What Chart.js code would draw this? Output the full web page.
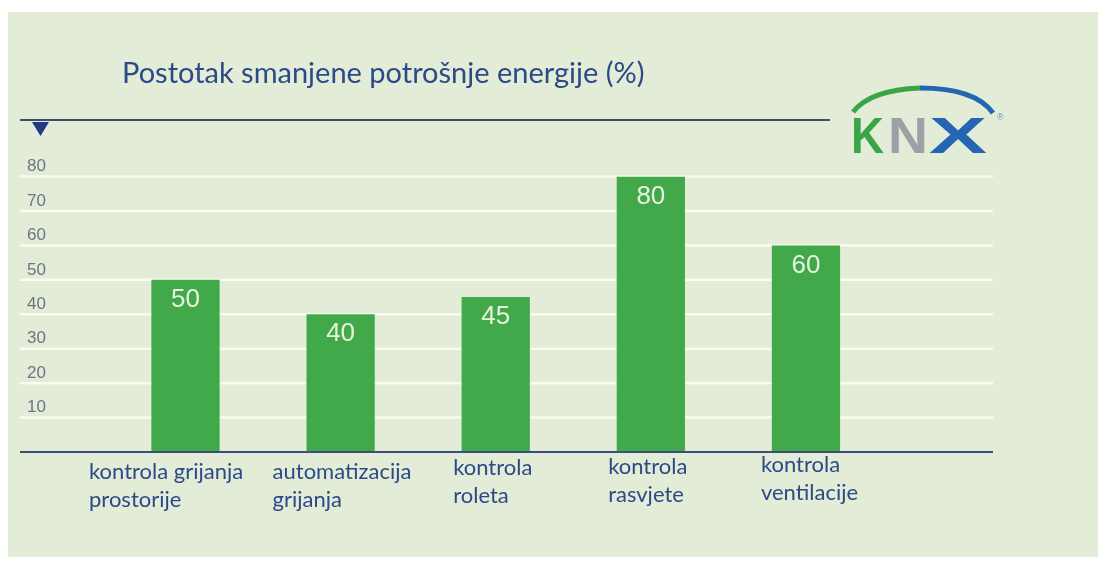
<!DOCTYPE html>
<html>
<head>
<meta charset="utf-8">
<title>Postotak smanjene potrošnje energije</title>
<script src="https://cdn.jsdelivr.net/npm/chart.js@4/dist/chart.umd.min.js"></script>
<style>
  html, body { margin: 0; padding: 0; background: #ffffff; }
  #panel { position: absolute; left: 8px; top: 12px; width: 1090px; height: 545px; background: #e2ecd6; }
  #wrap { position: absolute; left: 0; top: 0; width: 1105px; height: 564px; }
</style>
</head>
<body>
<div id="panel"></div>
<div id="wrap"><canvas id="chart" width="1105" height="564"></canvas></div>
<script>
// Data
const categories = [
  ['kontrola grijanja', 'prostorije'],
  ['automatizacija', 'grijanja'],
  ['kontrola', 'roleta'],
  ['kontrola', 'rasvjete'],
  ['kontrola', 'ventilacije']
];
const savings = [50, 40, 45, 80, 60];
const yTickValues = [0, 10, 20, 30, 40, 50, 60, 70, 80];
const chartTitle = 'Postotak smanjene potrošnje energije (%)';

// category labels are left aligned and not centred on the bars in the original
const labelShiftX = [-96.5, -68, -42.5, -42.7, -45];
const labelTopY = [472, 472, 468, 467, 465];

const blueText = '#2c4a88';
const barGreen = '#41a94a';

// title, top rule, triangle marker and KNX logo
const decorPlugin = {
  id: 'decor',
  beforeDraw(chart) {
    const ctx = chart.ctx;
    ctx.save();
    ctx.fillStyle = blueText;
    ctx.font = '29px Lato';
    ctx.textBaseline = 'middle';
    ctx.textAlign = 'left';
    ctx.fillText(chartTitle, 122, 74);

    ctx.strokeStyle = '#3d4d6a';
    ctx.lineWidth = 2;
    ctx.beginPath();
    ctx.moveTo(20, 120);
    ctx.lineTo(830, 120);
    ctx.stroke();

    ctx.fillStyle = '#1f3a86';
    ctx.beginPath();
    ctx.moveTo(32, 122);
    ctx.lineTo(49, 122);
    ctx.lineTo(40.5, 136);
    ctx.closePath();
    ctx.fill();

    drawLogo(ctx);
    ctx.restore();
  },
  beforeDatasetsDraw(chart) {
    // white grid lines run past the plot area, as in the original
    const ctx = chart.ctx;
    const y = chart.scales.y;
    ctx.save();
    ctx.strokeStyle = '#f8fcf2';
    ctx.lineWidth = 2.5;
    yTickValues.forEach(v => {
      if (v === 0) return;
      const py = y.getPixelForValue(v);
      ctx.beginPath();
      ctx.moveTo(20, py);
      ctx.lineTo(993, py);
      ctx.stroke();
    });
    ctx.restore();
  },
  afterDatasetsDraw(chart) {
    const ctx = chart.ctx;
    const x = chart.scales.x;
    const y = chart.scales.y;
    ctx.save();
    // axis base line
    const py = y.getPixelForValue(0);
    ctx.strokeStyle = '#3a4f7e';
    ctx.lineWidth = 2;
    ctx.beginPath();
    ctx.moveTo(20, py);
    ctx.lineTo(993, py);
    ctx.stroke();

    // values inside the bars
    const meta = chart.getDatasetMeta(0);
    ctx.fillStyle = '#e6f4de';
    ctx.font = '26px "Liberation Sans"';
    ctx.textAlign = 'center';
    ctx.textBaseline = 'middle';
    meta.data.forEach((bar, i) => {
      ctx.fillText(String(savings[i]), bar.x, bar.y + 20);
    });

    // category labels
    ctx.fillStyle = blueText;
    ctx.font = '22px Lato';
    ctx.textAlign = 'left';
    categories.forEach((lines, i) => {
      const px = x.getPixelForValue(i) + labelShiftX[i];
      lines.forEach((t, j) => ctx.fillText(t, px, labelTopY[i] + j * 28));
    });
    ctx.restore();
  }
};

function fitLetter(ctx, ch, x, w, color) {
  ctx.save();
  ctx.fillStyle = color;
  const mw = ctx.measureText(ch).width;
  ctx.translate(x, 153);
  ctx.scale(w / mw, 1);
  ctx.fillText(ch, 0, 0);
  ctx.restore();
}

function drawLogo(ctx) {
  ctx.save();
  ctx.lineWidth = 5;
  ctx.lineCap = 'butt';
  // arc over the letters
  ctx.strokeStyle = '#3aa547';
  ctx.beginPath();
  ctx.moveTo(853, 112);
  ctx.quadraticCurveTo(870, 90, 920, 88);
  ctx.stroke();
  ctx.strokeStyle = '#2466b4';
  ctx.beginPath();
  ctx.moveTo(920, 88);
  ctx.quadraticCurveTo(975, 88, 993, 113);
  ctx.stroke();

  ctx.font = 'bold 50px "Liberation Sans"';
  ctx.textBaseline = 'alphabetic';
  ctx.textAlign = 'left';
  fitLetter(ctx, 'K', 851, 33, '#3aa547');
  fitLetter(ctx, 'N', 888, 40, '#9ba1a7');
  fitLetter(ctx, 'X', 929, 58, '#2466b4');

  ctx.fillStyle = '#6a8fc4';
  ctx.font = '9px "Liberation Sans"';
  ctx.fillText('®', 997, 120);
  ctx.restore();
}

const ctx = document.getElementById('chart').getContext('2d');
const chart = new Chart(ctx, {
  type: 'bar',
  data: {
    labels: categories,
    datasets: [{
      data: savings,
      backgroundColor: barGreen,
      borderWidth: 0,
      categoryPercentage: 1,
      barPercentage: 0.44
    }]
  },
  options: {
    responsive: false,
    animation: false,
    layout: {
      padding: { left: 27, right: 221.5, top: 176.5, bottom: 0 }
    },
    plugins: {
      legend: { display: false },
      tooltip: { enabled: false }
    },
    scales: {
      x: {
        grid: { display: false, drawTicks: false },
        border: { display: false },
        afterFit(scale) { scale.height = 112; },
        ticks: { display: false }
      },
      y: {
        min: 0,
        max: 80,
        grid: { display: false, drawTicks: false },
        border: { display: false },
        afterFit(scale) { scale.width = 80.95; },
        afterBuildTicks(scale) {
          scale.ticks = yTickValues.map(v => ({ value: v }));
        },
        ticks: {
          crossAlign: 'far',
          padding: 8,
          labelOffset: -10,
          color: '#6c7686',
          font: { family: 'Liberation Sans', size: 17 },
          callback: v => (v === 0 ? '' : v)
        }
      }
    }
  },
  plugins: [decorPlugin]
});
</script>
</body>
</html>
